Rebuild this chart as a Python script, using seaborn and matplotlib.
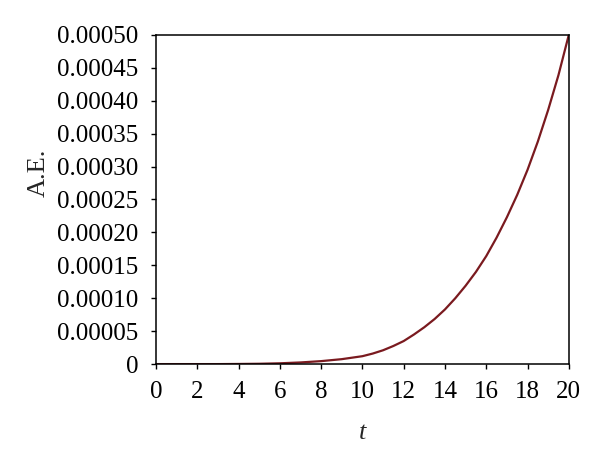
import numpy as np
import pandas as pd
import matplotlib
matplotlib.use("Agg")
import matplotlib.pyplot as plt
import seaborn as sns
from matplotlib.ticker import FuncFormatter

# values (A.E. in units of 1e-5)
t_vals = [0, 1, 2, 3, 4, 5, 6, 7, 8, 9, 10, 10.5, 11, 11.5, 12, 12.5, 13, 13.5,
          14, 14.5, 15, 15.5, 16, 16.5, 17, 17.5, 18, 18.5, 19, 19.5, 20]
ae_e5 = [0, 0, 0, 0, 0.02, 0.05, 0.12, 0.25, 0.45, 0.75, 1.2, 1.6, 2.1, 2.75,
         3.5, 4.5, 5.6, 6.85, 8.3, 10.0, 11.9, 14.0, 16.4, 19.2, 22.3, 25.7,
         29.5, 33.8, 38.6, 43.9, 50.0]
x_ticks = list(range(0, 21, 2))
y_ticks = [i * 0.00005 for i in range(11)]

df = pd.DataFrame({"t": t_vals, "ae": [v * 1e-5 for v in ae_e5]})

sns.set_theme(style="ticks")
plt.rcParams["font.family"] = ["Liberation Serif", "DejaVu Serif"]

fig = plt.figure(figsize=(6, 4.65), dpi=100)
ax = fig.add_axes([0.26, 0.217, 0.688, 0.708])
sns.lineplot(data=df, x="t", y="ae", ax=ax, color="#7a1a1f", linewidth=1.6)

ax.set_xlim(0, 20)
ax.set_ylim(0, 0.0005)
ax.set_xticks(x_ticks)
ax.set_yticks(y_ticks)
ax.yaxis.set_major_formatter(FuncFormatter(lambda v, p: "0" if abs(v) < 1e-12 else f"{v:.5f}"))
ax.tick_params(direction="out", length=3.5, width=1, color="black",
               labelsize=18, labelcolor="black")
ax.tick_params(axis="x", pad=9)
ax.tick_params(axis="y", pad=9)
for s in ax.spines.values():
    s.set_visible(True)
    s.set_color("black")
    s.set_linewidth(1.1)

ax.set_xlabel("t", fontsize=19, style="italic", labelpad=13)
ax.set_ylabel("A.E.", fontsize=19)
ax.yaxis.set_label_coords(-0.258, 0.58)

fig.savefig("out.png", dpi=100)
